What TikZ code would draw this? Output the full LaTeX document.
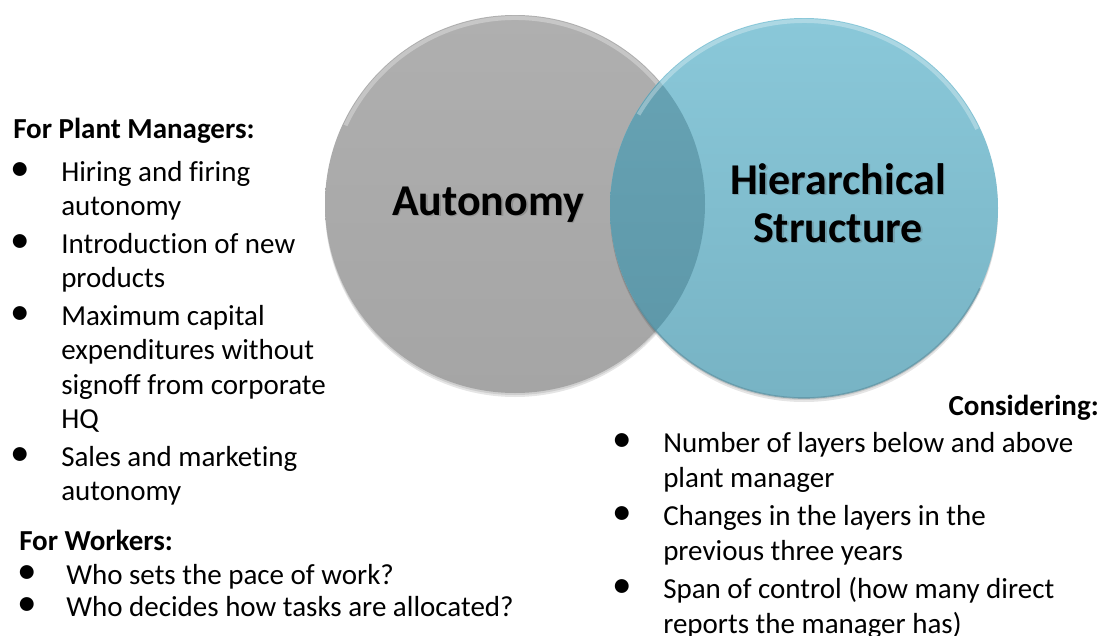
\documentclass[tikz,border=0pt]{standalone}
\usepackage{fontspec}
\setmainfont{Carlito}[Ligatures={NoCommon,NoContextual}]
\usepackage{graphicx}
\usepackage{array}
\definecolor{grtop}{RGB}{175,175,175}
\definecolor{grbot}{RGB}{165,165,165}
\definecolor{bltop}{RGB}{138,200,217}
\definecolor{blbot}{RGB}{119,179,196}
\definecolor{ovtop}{RGB}{104,164,181}
\definecolor{ovbot}{RGB}{92,150,167}
\definecolor{blrim}{RGB}{88,140,156}
\newcommand{\bodyfont}{\fontsize{21.75pt}{25.9pt}\selectfont}
\newcommand{\bigfont}{\fontsize{33pt}{36pt}\selectfont\bfseries}
\newcommand{\blt}{\makebox[15pt]{\smash{\raisebox{0.3pt}{\scalebox{1.35}{\textbullet}}}}}
\tikzset{
  txt/.style={inner sep=0pt, anchor=base west, font=\bodyfont},
  head/.style={txt, font=\bodyfont\bfseries},
  lbl/.style={inner sep=0pt, anchor=base, font=\bigfont},
  lblshadow/.style={lbl, text=black!70, opacity=0.25},
  rim/.style={white, opacity=0.3, line width=3}
}

\begin{document}
\begin{tikzpicture}[x=0.75pt,y=0.75pt,yscale=-1,xscale=1]
		\useasboundingbox (0,0) rectangle (1115,636);

		% gray ellipse
		\fill [black, opacity=0.10] (515,208) ellipse [x radius=190, y radius=189];
		\fill [black, opacity=0.10] (515,206) ellipse [x radius=190, y radius=189];
		\shade [top color=grtop, bottom color=grbot] (515,204) ellipse [x radius=190, y radius=189];
		\draw [rim] (515,204) ++(205:187 and 186) arc [start angle=205, end angle=335, x radius=187, y radius=186];

		% blue ellipse, with the overlap darker
		\fill [black, opacity=0.10] (804,212) ellipse [x radius=194, y radius=190];
		\fill [black, opacity=0.10] (804,210) ellipse [x radius=194, y radius=190];
		\shade [top color=bltop, bottom color=blbot] (804,208) ellipse [x radius=194, y radius=190];
		\begin{scope}
			\clip (515,204) ellipse [x radius=190, y radius=189];
			\shade [top color=ovtop, bottom color=ovbot] (804,208) ellipse [x radius=194, y radius=190];
		\end{scope}
		\draw [rim] (804,208) ++(210:191 and 187) arc [start angle=210, end angle=335, x radius=191, y radius=187];
		\draw [blrim, opacity=0.6, line width=1.2] (804,208) ++(25:194 and 190) arc [start angle=25, end angle=150, x radius=194, y radius=190];

		\draw (489.5,216.5) node (autoShd) [lblshadow] {Autonomy};
		\draw (488,215) node (autoLbl) [lbl] {Autonomy};
		\draw (839.5,195.5) node (hierShd) [lblshadow] {\begin{tabular}[t]{@{}c@{}}Hierarchical\\Structure\end{tabular}};
		\draw (838,194) node (hierLbl) [lbl] {\begin{tabular}[t]{@{}c@{}}Hierarchical\\Structure\end{tabular}};

		% left text
		\draw (13,138) node (plantHead) [head] {For Plant Managers:};
		\draw (10,181) node (plantList) [txt] {\begin{tabular}[t]{@{}c@{\hspace{23.25pt}}l@{}}
			\blt & Hiring and firing\\
			     & autonomy\\[2.25pt]
			\blt & Introduction of new\\
			     & products\\[2.25pt]
			\blt & Maximum capital\\
			     & expenditures without\\
			     & signoff from corporate\\
			     & HQ\\[2.25pt]
			\blt & Sales and marketing\\
			     & autonomy
		\end{tabular}};
		\draw (19,550) node (workHead) [head] {For Workers:};
		\draw (17,584) node (workList) [txt, font={\fontsize{21.75pt}{24pt}\selectfont}] {\begin{tabular}[t]{@{}c@{\hspace{21.75pt}}l@{}}
			\blt & Who sets the pace of work?\\
			\blt & Who decides how tasks are allocated?
		\end{tabular}};

		% right text
		\draw (1099,415) node (consHead) [head, anchor=base east] {Considering:};
		\draw (612,452) node (layerList) [txt, font={\fontsize{21.75pt}{26.25pt}\selectfont}] {\begin{tabular}[t]{@{}c@{\hspace{23.25pt}}l@{}}
			\blt & Number of layers below and above\\
			     & plant manager\\[2.25pt]
			\blt & Changes in the layers in the\\
			     & previous three years\\[2.25pt]
			\blt & Span of control (how many direct\\
			     & reports the manager has)
		\end{tabular}};
\end{tikzpicture}
\end{document}
